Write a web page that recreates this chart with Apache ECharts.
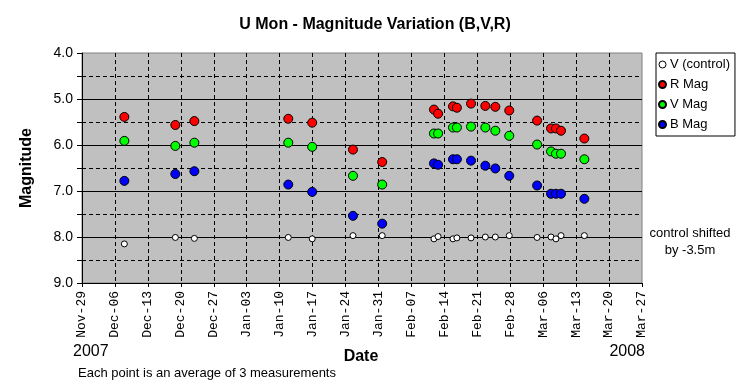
<!DOCTYPE html>
<html>
<head>
<meta charset="utf-8">
<script src="https://cdn.jsdelivr.net/npm/echarts@6/dist/echarts.min.js"></script>
<style>html,body{margin:0;padding:0;background:#fff}#c{width:749px;height:385px}</style>
</head>
<body>
<div id="c"></div>
<script>
const dates = ["2007-12-08T00:00Z","2007-12-18T20:00Z","2007-12-22T21:00Z","2008-01-11T20:00Z","2008-01-16T22:00Z","2008-01-25T14:00Z","2008-01-31T19:00Z","2008-02-11T19:00Z","2008-02-12T16:00Z","2008-02-15T20:00Z","2008-02-16T16:00Z","2008-02-19T16:00Z","2008-02-22T17:00Z","2008-02-24T20:00Z","2008-02-27T19:00Z","2008-03-04T17:00Z","2008-03-07T16:00Z","2008-03-08T17:00Z","2008-03-09T19:00Z","2008-03-14T18:00Z"];
const vControl = [8.15,8.01,8.03,8.01,8.04,7.97,7.97,8.04,7.99,8.04,8.02,8.02,8.00,8.00,7.97,8.01,8.00,8.04,7.97,7.97];
const rMag = [5.39,5.565,5.48,5.43,5.515,6.10,6.37,5.23,5.32,5.16,5.19,5.10,5.15,5.17,5.25,5.47,5.64,5.64,5.69,5.86];
const vMag = [5.91,6.02,5.95,5.95,6.04,6.67,6.86,5.75,5.75,5.62,5.62,5.60,5.62,5.69,5.80,5.99,6.14,6.19,6.19,6.31];
const bMag = [6.78,6.63,6.57,6.86,7.02,7.54,7.71,6.40,6.43,6.31,6.31,6.34,6.45,6.51,6.67,6.88,7.06,7.06,7.06,7.17];
const xStart = "2007-11-29T00:00Z";
const xEnd = "2008-03-27T00:00Z";
const monthNames = ["Jan","Feb","Mar","Apr","May","Jun","Jul","Aug","Sep","Oct","Nov","Dec"];

const DAY = 86400000;
const ts = dates.map(d => Date.parse(d));
const pair = arr => arr.map((v, i) => [ts[i], v]);
const font = "'Liberation Sans', Arial, sans-serif";

const chart = echarts.init(document.getElementById('c'), null, {renderer: 'canvas'});
chart.setOption({
  backgroundColor: '#ffffff',
  animation: false,
  grid: {left: 82, right: 107, top: 53, bottom: 102, show: true, backgroundColor: '#c0c0c0', borderColor: '#808080', borderWidth: 1},
  xAxis: {
    type: 'value', min: Date.parse(xStart), max: Date.parse(xEnd), interval: 7 * DAY,
    axisLine: {show: true, lineStyle: {color: '#000', width: 1}},
    axisTick: {show: true, inside: false, length: 4, lineStyle: {color: '#000'}},
    splitLine: {show: true, showMinLine: false, showMaxLine: false, lineStyle: {color: '#000', type: [4, 3], width: 1}},
    axisLabel: {
      rotate: 90, margin: 8, color: '#000', fontFamily: "'Liberation Mono', 'Courier New', monospace", fontSize: 13,
      formatter: v => { const d = new Date(v); return monthNames[d.getUTCMonth()] + '-' + String(d.getUTCDate()).padStart(2, '0'); }
    }
  },
  yAxis: {
    type: 'value', min: 4, max: 9, interval: 1, inverse: true,
    axisLine: {show: true, lineStyle: {color: '#000', width: 1}},
    axisTick: {show: true, inside: false, length: 5, lineStyle: {color: '#000'}},
    minorTick: {show: true, splitNumber: 2, length: 5, lineStyle: {color: '#000'}},
    splitLine: {show: true, showMinLine: false, showMaxLine: false, lineStyle: {color: '#000', width: 1}},
    minorSplitLine: {show: true, lineStyle: {color: '#000', type: [4, 3], width: 1}},
    axisLabel: {color: '#000', fontFamily: font, fontSize: 14, margin: 9, formatter: v => v.toFixed(1)}
  },
  legend: {
    orient: 'vertical', left: 656, top: 53,
    backgroundColor: '#fff', borderColor: '#000', borderWidth: 1, borderRadius: 0,
    padding: [5, 5, 5, 2], itemGap: 7, itemWidth: 7, itemHeight: 7,
    textStyle: {fontFamily: font, fontSize: 13, color: '#000', padding: [0, 0, 0, -1]},
    data: [
      {name: 'V (control)', icon: 'circle', itemStyle: {color: '#fff', borderColor: '#000', borderWidth: 1}},
      {name: 'R Mag', icon: 'circle'},
      {name: 'V Mag', icon: 'circle'},
      {name: 'B Mag', icon: 'circle'}
    ]
  },
  series: [
    {name: 'V (control)', type: 'scatter', data: pair(vControl), symbol: 'circle', symbolSize: 6, itemStyle: {color: '#ffffff', borderColor: '#000', borderWidth: 1, opacity: 1}},
    {name: 'R Mag', type: 'scatter', data: pair(rMag), symbol: 'circle', symbolSize: 9, itemStyle: {color: '#ff0000', borderColor: '#000', borderWidth: 1, opacity: 1}},
    {name: 'V Mag', type: 'scatter', data: pair(vMag), symbol: 'circle', symbolSize: 9, itemStyle: {color: '#00ff00', borderColor: '#000', borderWidth: 1, opacity: 1}},
    {name: 'B Mag', type: 'scatter', data: pair(bMag), symbol: 'circle', symbolSize: 9, itemStyle: {color: '#0000ff', borderColor: '#000', borderWidth: 1, opacity: 1}}
  ],
  graphic: [
    {type: 'text', x: 375, y: 25, style: {text: 'U Mon - Magnitude Variation (B,V,R)', font: 'bold 16px ' + font, fill: '#000', textAlign: 'center', textVerticalAlign: 'middle'}},
    {type: 'text', x: 27, y: 168, rotation: Math.PI / 2, style: {text: 'Magnitude', font: 'bold 16px ' + font, fill: '#000', textAlign: 'center', textVerticalAlign: 'middle'}},
    {type: 'text', x: 361, y: 357, style: {text: 'Date', font: 'bold 16px ' + font, fill: '#000', textAlign: 'center', textVerticalAlign: 'middle'}},
    {type: 'text', x: 73, y: 352, style: {text: '2007', font: '16px ' + font, fill: '#000', textAlign: 'left', textVerticalAlign: 'middle'}},
    {type: 'text', x: 645, y: 352, style: {text: '2008', font: '16px ' + font, fill: '#000', textAlign: 'right', textVerticalAlign: 'middle'}},
    {type: 'text', x: 78, y: 373, style: {text: 'Each point is an average of 3 measurements', font: '13px ' + font, fill: '#000', textAlign: 'left', textVerticalAlign: 'middle'}},
    {type: 'text', x: 690, y: 233, style: {text: 'control shifted', font: '13px ' + font, fill: '#000', textAlign: 'center', textVerticalAlign: 'middle'}},
    {type: 'text', x: 690, y: 250, style: {text: 'by -3.5m', font: '13px ' + font, fill: '#000', textAlign: 'center', textVerticalAlign: 'middle'}}
  ]
});
</script>
</body>
</html>
